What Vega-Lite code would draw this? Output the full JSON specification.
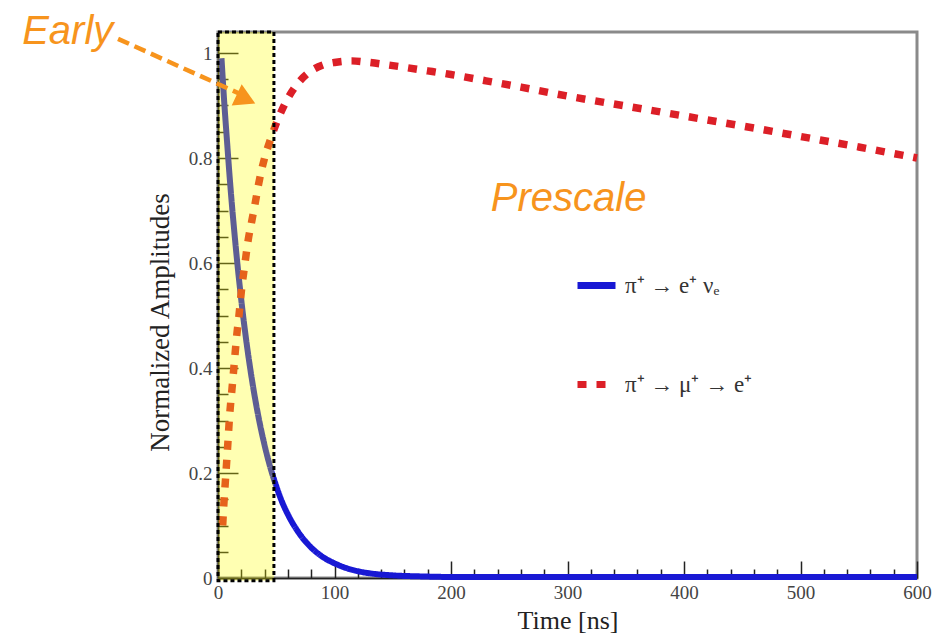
{
  "$schema": "https://vega.github.io/schema/vega-lite/v6.json",
  "width": 699,
  "height": 546,
  "autosize": "none",
  "padding": {"left": 218, "top": 32, "right": 30, "bottom": 62},
  "background": "white",
  "config": {
    "font": "Liberation Serif",
    "view": {"stroke": "#8a8a8a", "strokeWidth": 3},
    "axis": {"grid": false}
  },
  "datasets": {
    "curves": [
      {"series": "π⁺ → e⁺ νₑ", "t": 3, "v": 0.99},
      {"series": "π⁺ → e⁺ νₑ", "t": 5, "v": 0.918},
      {"series": "π⁺ → e⁺ νₑ", "t": 8, "v": 0.824},
      {"series": "π⁺ → e⁺ νₑ", "t": 10, "v": 0.764},
      {"series": "π⁺ → e⁺ νₑ", "t": 15, "v": 0.636},
      {"series": "π⁺ → e⁺ νₑ", "t": 20, "v": 0.529},
      {"series": "π⁺ → e⁺ νₑ", "t": 25, "v": 0.44},
      {"series": "π⁺ → e⁺ νₑ", "t": 30, "v": 0.366},
      {"series": "π⁺ → e⁺ νₑ", "t": 35, "v": 0.304},
      {"series": "π⁺ → e⁺ νₑ", "t": 40, "v": 0.253},
      {"series": "π⁺ → e⁺ νₑ", "t": 45, "v": 0.21},
      {"series": "π⁺ → e⁺ νₑ", "t": 50, "v": 0.175},
      {"series": "π⁺ → e⁺ νₑ", "t": 55, "v": 0.145},
      {"series": "π⁺ → e⁺ νₑ", "t": 60, "v": 0.121},
      {"series": "π⁺ → e⁺ νₑ", "t": 70, "v": 0.084},
      {"series": "π⁺ → e⁺ νₑ", "t": 80, "v": 0.058},
      {"series": "π⁺ → e⁺ νₑ", "t": 90, "v": 0.04},
      {"series": "π⁺ → e⁺ νₑ", "t": 100, "v": 0.028},
      {"series": "π⁺ → e⁺ νₑ", "t": 110, "v": 0.019},
      {"series": "π⁺ → e⁺ νₑ", "t": 120, "v": 0.013},
      {"series": "π⁺ → e⁺ νₑ", "t": 130, "v": 0.009},
      {"series": "π⁺ → e⁺ νₑ", "t": 150, "v": 0.005},
      {"series": "π⁺ → e⁺ νₑ", "t": 175, "v": 0.003},
      {"series": "π⁺ → e⁺ νₑ", "t": 200, "v": 0.002},
      {"series": "π⁺ → e⁺ νₑ", "t": 300, "v": 0.002},
      {"series": "π⁺ → e⁺ νₑ", "t": 400, "v": 0.002},
      {"series": "π⁺ → e⁺ νₑ", "t": 500, "v": 0.002},
      {"series": "π⁺ → e⁺ νₑ", "t": 600, "v": 0.002},
      {"series": "π⁺ → μ⁺ → e⁺", "t": 4, "v": 0.1},
      {"series": "π⁺ → μ⁺ → e⁺", "t": 5, "v": 0.14},
      {"series": "π⁺ → μ⁺ → e⁺", "t": 6.5, "v": 0.19},
      {"series": "π⁺ → μ⁺ → e⁺", "t": 8, "v": 0.24},
      {"series": "π⁺ → μ⁺ → e⁺", "t": 10, "v": 0.31},
      {"series": "π⁺ → μ⁺ → e⁺", "t": 12, "v": 0.36},
      {"series": "π⁺ → μ⁺ → e⁺", "t": 14, "v": 0.41},
      {"series": "π⁺ → μ⁺ → e⁺", "t": 16, "v": 0.46},
      {"series": "π⁺ → μ⁺ → e⁺", "t": 18, "v": 0.5},
      {"series": "π⁺ → μ⁺ → e⁺", "t": 20, "v": 0.545},
      {"series": "π⁺ → μ⁺ → e⁺", "t": 23, "v": 0.597},
      {"series": "π⁺ → μ⁺ → e⁺", "t": 26, "v": 0.645},
      {"series": "π⁺ → μ⁺ → e⁺", "t": 29, "v": 0.68},
      {"series": "π⁺ → μ⁺ → e⁺", "t": 32, "v": 0.715},
      {"series": "π⁺ → μ⁺ → e⁺", "t": 35, "v": 0.752},
      {"series": "π⁺ → μ⁺ → e⁺", "t": 40, "v": 0.8},
      {"series": "π⁺ → μ⁺ → e⁺", "t": 45, "v": 0.835},
      {"series": "π⁺ → μ⁺ → e⁺", "t": 50, "v": 0.866},
      {"series": "π⁺ → μ⁺ → e⁺", "t": 55, "v": 0.892},
      {"series": "π⁺ → μ⁺ → e⁺", "t": 60, "v": 0.914},
      {"series": "π⁺ → μ⁺ → e⁺", "t": 70, "v": 0.946},
      {"series": "π⁺ → μ⁺ → e⁺", "t": 80, "v": 0.966},
      {"series": "π⁺ → μ⁺ → e⁺", "t": 90, "v": 0.977},
      {"series": "π⁺ → μ⁺ → e⁺", "t": 100, "v": 0.982},
      {"series": "π⁺ → μ⁺ → e⁺", "t": 115, "v": 0.985},
      {"series": "π⁺ → μ⁺ → e⁺", "t": 130, "v": 0.982},
      {"series": "π⁺ → μ⁺ → e⁺", "t": 150, "v": 0.976},
      {"series": "π⁺ → μ⁺ → e⁺", "t": 180, "v": 0.966},
      {"series": "π⁺ → μ⁺ → e⁺", "t": 200, "v": 0.959},
      {"series": "π⁺ → μ⁺ → e⁺", "t": 230, "v": 0.947},
      {"series": "π⁺ → μ⁺ → e⁺", "t": 260, "v": 0.935},
      {"series": "π⁺ → μ⁺ → e⁺", "t": 300, "v": 0.918},
      {"series": "π⁺ → μ⁺ → e⁺", "t": 350, "v": 0.899},
      {"series": "π⁺ → μ⁺ → e⁺", "t": 400, "v": 0.88},
      {"series": "π⁺ → μ⁺ → e⁺", "t": 450, "v": 0.861},
      {"series": "π⁺ → μ⁺ → e⁺", "t": 500, "v": 0.841},
      {"series": "π⁺ → μ⁺ → e⁺", "t": 550, "v": 0.821},
      {"series": "π⁺ → μ⁺ → e⁺", "t": 600, "v": 0.8}
    ],
    "box": [{"t0": 0, "t1": 48, "v0": -0.005, "v1": 1.04}],
    "arrow": [{"t0": -85.8, "v0": 1.027, "t1": 20, "v1": 0.921}],
    "head": [{"t": 24, "v": 0.912}],
    "labels": [
      {"label": "Early", "t": -129, "v": 1.017},
      {"label": "Prescale", "t": 301, "v": 0.7}
    ]
  },
  "layer": [
    {
      "data": {"name": "curves"},
      "transform": [{"filter": "datum.series === 'π⁺ → e⁺ νₑ'"}],
      "mark": {"type": "line", "strokeWidth": 6, "interpolate": "monotone"},
      "encoding": {
        "x": {
          "field": "t", "type": "quantitative",
          "scale": {"domain": [0, 600], "nice": false, "zero": false},
          "axis": {
            "title": "Time [ns]",
            "titleFont": "Liberation Serif", "titleFontSize": 26, "titleFontWeight": "normal", "titleColor": "#222",
            "titleBaseline": "alphabetic", "titleY": 50,
            "values": [0,20,40,60,80,100,120,140,160,180,200,220,240,260,280,300,320,340,360,380,400,420,440,460,480,500,520,540,560,580,600],
            "tickCount": 100,
            "labelExpr": "datum.value % 100 === 0 ? datum.label : ''",
            "labelOverlap": false,
            "labelFont": "Liberation Serif", "labelFontSize": 19, "labelColor": "#444",
            "labelPadding": 22,
            "labelFlush": false,
            "tickColor": "#222", "tickWidth": 1.5,
            "tickSize": {"condition": {"test": "datum.value % 100 === 0", "value": -17}, "value": -9},
            "domainColor": "#222", "domainWidth": 1.5
          }
        },
        "y": {
          "field": "v", "type": "quantitative",
          "scale": {"domain": [0, 1.04], "nice": false},
          "axis": {
            "title": "Normalized Amplitudes",
            "titleFont": "Liberation Serif", "titleFontSize": 27, "titleFontWeight": "normal", "titleColor": "#222",
            "titleX": -58, "titleY": 290, "titleAngle": -90, "titleAlign": "center", "titleBaseline": "middle",
            "values": [0,0.05,0.1,0.15,0.2,0.25,0.3,0.35,0.4,0.45,0.5,0.55,0.6,0.65,0.7,0.75,0.8,0.85,0.9,0.95,1],
            "tickCount": 100,
            "labelExpr": "abs(datum.value*5 - round(datum.value*5)) < 0.001 ? format(datum.value, '~g') : ''",
            "labelOverlap": false,
            "labelFont": "Liberation Serif", "labelFontSize": 19, "labelColor": "#444",
            "labelPadding": 26,
            "labelFlush": false,
            "tickColor": "#222", "tickWidth": 1.5,
            "tickSize": {"condition": {"test": "abs(datum.value*5 - round(datum.value*5)) < 0.001", "value": -20}, "value": -10},
            "domainColor": "#222", "domainWidth": 1.5
          }
        },
        "color": {
          "field": "series", "type": "nominal",
          "scale": {"domain": ["π⁺ → e⁺ νₑ", "π⁺ → μ⁺ → e⁺"], "range": ["#1818d4", "#dc1f27"]},
          "legend": {
            "orient": "none", "legendX": 356, "legendY": 231, "title": null,
            "symbolType": "stroke", "symbolSize": 1444, "symbolStrokeWidth": 7,
            "labelFont": "Liberation Serif", "labelFontSize": 23, "labelColor": "#333",
            "rowPadding": 62, "labelOffset": 6, "padding": 0
          }
        },
        "strokeDash": {
          "field": "series", "type": "nominal",
          "scale": {"domain": ["π⁺ → e⁺ νₑ", "π⁺ → μ⁺ → e⁺"], "range": [[1, 0], [9, 10]]},
          "legend": {
            "orient": "none", "legendX": 356, "legendY": 231, "title": null,
            "symbolType": "stroke", "symbolSize": 1444, "symbolStrokeWidth": 7,
            "labelFont": "Liberation Serif", "labelFontSize": 23, "labelColor": "#333",
            "rowPadding": 62, "labelOffset": 6, "padding": 0
          }
        }
      }
    },
    {
      "data": {"name": "curves"},
      "transform": [{"filter": "datum.series === 'π⁺ → μ⁺ → e⁺'"}],
      "mark": {"type": "line", "strokeWidth": 7.5, "strokeCap": "butt", "interpolate": "monotone"},
      "encoding": {
        "x": {"field": "t", "type": "quantitative"},
        "y": {"field": "v", "type": "quantitative"},
        "color": {"field": "series", "type": "nominal"},
        "strokeDash": {"field": "series", "type": "nominal"}
      }
    },
    {
      "data": {"name": "box"},
      "mark": {"type": "rect", "fill": "#ffff00", "fillOpacity": 0.3, "stroke": "#000", "strokeOpacity": 1, "strokeWidth": 3, "strokeDash": [4, 3]},
      "encoding": {
        "x": {"field": "t0", "type": "quantitative"},
        "x2": {"field": "t1"},
        "y": {"field": "v0", "type": "quantitative"},
        "y2": {"field": "v1"}
      }
    },
    {
      "data": {"name": "arrow"},
      "mark": {"type": "rule", "color": "#f7941d", "strokeWidth": 4.5, "strokeDash": [12, 6]},
      "encoding": {
        "x": {"field": "t0", "type": "quantitative"},
        "x2": {"field": "t1"},
        "y": {"field": "v0", "type": "quantitative"},
        "y2": {"field": "v1"}
      }
    },
    {
      "data": {"name": "head"},
      "mark": {"type": "point", "shape": "triangle-right", "filled": true, "color": "#f7941d", "opacity": 1, "size": 560, "angle": 25},
      "encoding": {
        "x": {"field": "t", "type": "quantitative"},
        "y": {"field": "v", "type": "quantitative"}
      }
    },
    {
      "data": {"name": "labels"},
      "mark": {"type": "text", "font": "Liberation Sans", "fontStyle": "italic", "fontSize": 40, "color": "#f7941d", "align": "center", "baseline": "alphabetic"},
      "encoding": {
        "x": {"field": "t", "type": "quantitative"},
        "y": {"field": "v", "type": "quantitative"},
        "text": {"field": "label"}
      }
    }
  ]
}
